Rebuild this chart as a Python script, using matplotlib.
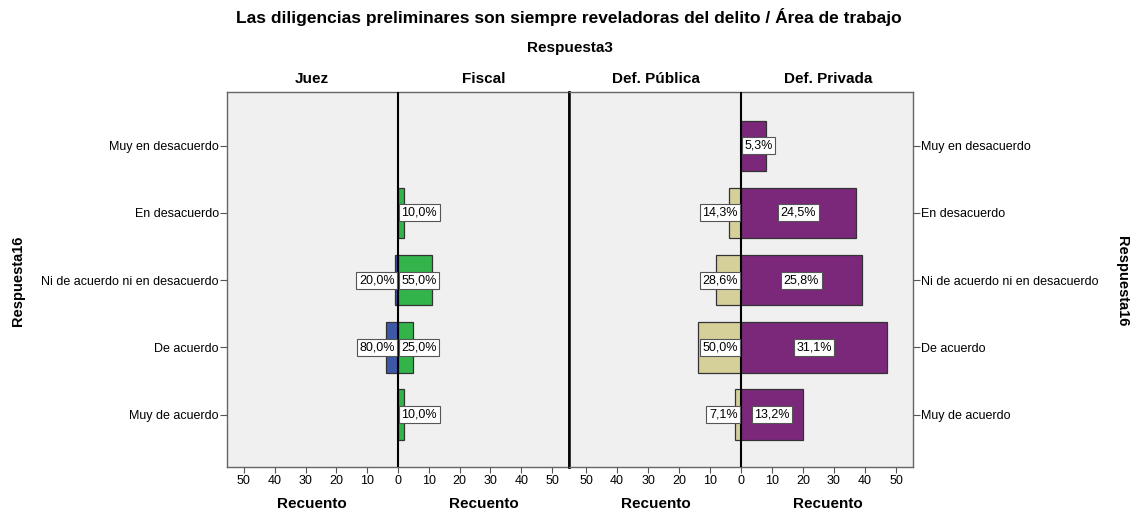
import numpy as np
import matplotlib.pyplot as plt

plt.rcParams['font.family'] = ['Liberation Sans', 'DejaVu Sans']

categorias = ["Muy en desacuerdo", "En desacuerdo", "Ni de acuerdo ni en desacuerdo",
              "De acuerdo", "Muy de acuerdo"]

juez = [0, 0, 1, 4, 0]
fiscal = [0, 2, 11, 5, 2]
def_publica = [0, 4, 8, 14, 2]
def_privada = [8, 37, 39, 47, 20]

juez_pct = ["", "", "20,0%", "80,0%", ""]
fiscal_pct = ["", "10,0%", "55,0%", "25,0%", "10,0%"]
publica_pct = ["", "14,3%", "28,6%", "50,0%", "7,1%"]
privada_pct = ["5,3%", "24,5%", "25,8%", "31,1%", "13,2%"]

grupos = ["Juez", "Fiscal", "Def. Pública", "Def. Privada"]
colores = {"Juez": "#3d58a7", "Fiscal": "#32b44a",
           "Def. Pública": "#d5d09a", "Def. Privada": "#7b287b"}

W, H = 1138, 514
fig = plt.figure(figsize=(W / 100, H / 100), dpi=100)

def fx(px):
    return px / W

def fy(py):
    return 1 - py / H

ax1 = fig.add_axes([fx(227), fy(467), fx(342), fy(92) - fy(467)])
ax2 = fig.add_axes([fx(569), fy(467), fx(344), fy(92) - fy(467)])

y = np.arange(len(categorias))
box = dict(boxstyle="square,pad=0.2", fc="white", ec="#555555", lw=0.8)


def etiquetas(ax, vals, pcts, lado):
    for i, (v, p) in enumerate(zip(vals, pcts)):
        if not p:
            continue
        hw = 1.45 * len(p)
        if v / 2 > hw:
            ax.text(lado * v / 2, i, p, ha="center", va="center",
                    fontsize=9, bbox=box, zorder=5)
        else:
            ax.annotate(p, (0, i), xytext=(lado * 2.5, 0), textcoords="offset points",
                        ha="left" if lado > 0 else "right", va="center",
                        fontsize=9, bbox=box, zorder=5)


def barras(ax, vals, lado, color):
    vals = np.array(vals)
    m = vals > 0
    ax.barh(y[m], lado * vals[m], height=0.75, color=color,
            edgecolor="#333333", lw=0.9, zorder=3)


paneles = [(ax1, juez, fiscal, juez_pct, fiscal_pct, "Juez", "Fiscal", 312, 484),
           (ax2, def_publica, def_privada, publica_pct, privada_pct,
            "Def. Pública", "Def. Privada", 656, 828)]

for ax, izq, der, pizq, pder, gi, gd, xi, xd in paneles:
    ax.set_facecolor("#f0f0f0")
    barras(ax, izq, -1, colores[gi])
    barras(ax, der, 1, colores[gd])
    ax.axvline(0, color="black", lw=1.5, zorder=4)
    etiquetas(ax, izq, pizq, -1)
    etiquetas(ax, der, pder, 1)
    ax.set_xlim(-55.5, 55.5)
    ax.set_ylim(4.78, -0.8)
    ticks = np.arange(-50, 51, 10)
    ax.set_xticks(ticks)
    ax.set_xticklabels([str(abs(t)) for t in ticks], fontsize=9)
    ax.tick_params(axis="x", length=4, width=0.8, pad=2, color="#555555")
    ax.set_yticks(y)
    for s in ax.spines.values():
        s.set_color("#666666")
        s.set_linewidth(1.0)
    fig.text(fx(xi), fy(79), gi, ha="center", va="center", fontsize=11, fontweight="bold")
    fig.text(fx(xd), fy(79), gd, ha="center", va="center", fontsize=11, fontweight="bold")
    fig.text(fx(xi), fy(504), "Recuento", ha="center", va="center", fontsize=11, fontweight="bold")
    fig.text(fx(xd), fy(504), "Recuento", ha="center", va="center", fontsize=11, fontweight="bold")

ax1.set_yticklabels(categorias, fontsize=9)
ax1.tick_params(axis="y", length=5, width=0.8, pad=1, color="#555555")
ax1.spines["right"].set_color("black")
ax1.spines["right"].set_linewidth(1.8)
ax2.spines["left"].set_color("black")
ax2.spines["left"].set_linewidth(1.8)
ax2.yaxis.tick_right()
ax2.set_yticklabels(categorias, fontsize=9)
ax2.tick_params(axis="y", length=5, width=0.8, pad=1, color="#555555")

fig.text(0.5, fy(17), "Las diligencias preliminares son siempre reveladoras del delito / Área de trabajo",
         ha="center", va="center", fontsize=12.5, fontweight="bold")
fig.text(fx(570), fy(48), "Respuesta3", ha="center", va="center", fontsize=11, fontweight="bold")
fig.text(fx(18), fy(281), "Respuesta16", ha="center", va="center", rotation=90,
         fontsize=10.5, fontweight="bold")
fig.text(fx(1122), fy(281), "Respuesta16", ha="center", va="center", rotation=270,
         fontsize=10.5, fontweight="bold")

fig.savefig("out.png", dpi=100)
